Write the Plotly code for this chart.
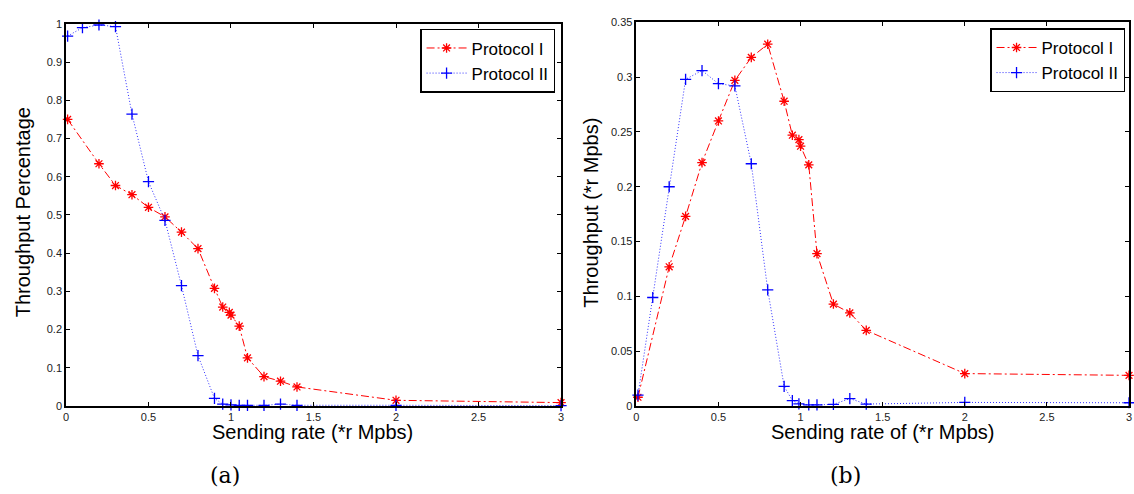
import plotly.graph_objects as go

# ---- data: panel (a) throughput percentage ----
a_x1 = [0.01, 0.2, 0.3, 0.4, 0.5, 0.6, 0.7, 0.8, 0.9, 0.95, 0.99, 1.0, 1.05, 1.1, 1.2, 1.3, 1.4, 2.0, 3.0]
a_y1 = [0.75, 0.634, 0.577, 0.553, 0.52, 0.495, 0.455, 0.412, 0.308, 0.259, 0.245, 0.238, 0.209, 0.126, 0.077, 0.065, 0.05, 0.015, 0.009]
a_x2 = [0.01, 0.1, 0.2, 0.3, 0.4, 0.5, 0.6, 0.7, 0.8, 0.9, 0.95, 1.0, 1.05, 1.1, 1.2, 1.3, 1.4, 2.0, 3.0]
a_y2 = [0.968, 0.99, 0.997, 0.993, 0.764, 0.587, 0.486, 0.315, 0.132, 0.02, 0.005, 0.003, 0.002, 0.002, 0.002, 0.005, 0.002, 0.002, 0.001]

# ---- data: panel (b) throughput ----
b_x1 = [0.01, 0.2, 0.3, 0.4, 0.5, 0.6, 0.7, 0.8, 0.9, 0.95, 0.99, 1.0, 1.05, 1.1, 1.2, 1.3, 1.4, 2.0, 3.0]
b_y1 = [0.008, 0.127, 0.173, 0.222, 0.26, 0.297, 0.318, 0.33, 0.278, 0.247, 0.243, 0.237, 0.22, 0.139, 0.093, 0.085, 0.069, 0.0296, 0.028]
b_x2 = [0.01, 0.1, 0.2, 0.3, 0.4, 0.5, 0.6, 0.7, 0.8, 0.9, 0.95, 0.99, 1.05, 1.1, 1.2, 1.3, 1.4, 2.0, 3.0]
b_y2 = [0.01, 0.099, 0.2, 0.298, 0.306, 0.294, 0.292, 0.221, 0.106, 0.018, 0.005, 0.002, 0.001, 0.001, 0.0015, 0.0068, 0.0018, 0.0033, 0.003]

series_names = ["Protocol I", "Protocol II"]
x_ticks = [0, 0.5, 1, 1.5, 2, 2.5, 3]
x_ticktext = ["0", "0.5", "1", "1.5", "2", "2.5", "3"]
a_yticks = [0, 0.1, 0.2, 0.3, 0.4, 0.5, 0.6, 0.7, 0.8, 0.9, 1.0]
a_yticktext = ["0", "0.1", "0.2", "0.3", "0.4", "0.5", "0.6", "0.7", "0.8", "0.9", "1"]
b_yticks = [0, 0.05, 0.1, 0.15, 0.2, 0.25, 0.3, 0.35]
b_yticktext = ["0", "0.05", "0.1", "0.15", "0.2", "0.25", "0.3", "0.35"]

W, H = 1134, 494
FONT = "Liberation Sans, Arial, sans-serif"

fig = go.Figure()

def px_x(p):
    return p / W

def px_y(p):
    return 1 - p / H

style1 = dict(mode="lines+markers", line=dict(color="#ff0000", width=1, dash="8px,3px,2px,3px"),
              marker=dict(symbol="asterisk-open", size=8, color="#ff0000", line=dict(color="#ff0000", width=1.3)),
              cliponaxis=False)
style2 = dict(mode="lines+markers", line=dict(color="#3030ff", width=1, dash="1px,2px"),
              marker=dict(symbol="cross-thin-open", size=8, color="#0000ff", line=dict(color="#0000ff", width=1.3)),
              cliponaxis=False)

fig.add_trace(go.Scatter(x=a_x1, y=a_y1, name=series_names[0], xaxis="x", yaxis="y", legend="legend", **style1))
fig.add_trace(go.Scatter(x=a_x2, y=a_y2, name=series_names[1], xaxis="x", yaxis="y", legend="legend", **style2))
fig.add_trace(go.Scatter(x=b_x1, y=b_y1, name=series_names[0], xaxis="x2", yaxis="y2", legend="legend2", **style1))
fig.add_trace(go.Scatter(x=b_x2, y=b_y2, name=series_names[1], xaxis="x2", yaxis="y2", legend="legend2", **style2))

axis_common = dict(showline=True, linecolor="black", linewidth=1.5, mirror="ticks", ticks="inside",
                   ticklen=4, tickcolor="black", tickwidth=1, showgrid=False, zeroline=False,
                   tickfont=dict(family=FONT, size=11, color="#222"))

legend_common = dict(bordercolor="black", borderwidth=1.5, bgcolor="white",
                     font=dict(family=FONT, size=17, color="black"),
                     xanchor="right", yanchor="top", tracegroupgap=0, itemwidth=40)

fig.update_layout(
    width=W, height=H, autosize=False,
    margin=dict(l=0, r=0, t=0, b=0),
    plot_bgcolor="white", paper_bgcolor="white",
    xaxis=dict(domain=[px_x(63.3), px_x(561)], range=[0, 3], anchor="y",
               tickvals=x_ticks, ticktext=x_ticktext, **axis_common),
    yaxis=dict(domain=[px_y(410), px_y(18.3)], range=[0, 1], anchor="x",
               tickvals=a_yticks, ticktext=a_yticktext, **axis_common),
    xaxis2=dict(domain=[px_x(636.7), px_x(1132)], range=[0, 3], anchor="y2",
                tickvals=x_ticks, ticktext=x_ticktext, **axis_common),
    yaxis2=dict(domain=[px_y(410), px_y(16.7)], range=[0, 0.35], anchor="x2",
                tickvals=b_yticks, ticktext=b_yticktext, **axis_common),
    legend=dict(x=px_x(555), y=px_y(23.5), **legend_common),
    legend2=dict(x=px_x(1128), y=px_y(23), **legend_common),
    showlegend=True,
)

ann_font = dict(family=FONT, size=20, color="black")
cap_font = dict(family="DejaVu Serif, Liberation Serif, serif", size=22, color="black")
fig.add_annotation(text="Sending rate (*r Mpbs)", x=px_x(311), y=px_y(437), xref="paper", yref="paper",
                   showarrow=False, font=ann_font, xanchor="center", yanchor="middle")
fig.add_annotation(text="Sending rate of (*r Mpbs)", x=px_x(884), y=px_y(437), xref="paper", yref="paper",
                   showarrow=False, font=ann_font, xanchor="center", yanchor="middle")
fig.add_annotation(text="Throughput Percentage", x=px_x(19.5), y=px_y(211), xref="paper", yref="paper",
                   showarrow=False, font=ann_font, textangle=-90, xanchor="center", yanchor="middle")
fig.add_annotation(text="Throughput (*r Mpbs)", x=px_x(591), y=px_y(212), xref="paper", yref="paper",
                   showarrow=False, font=ann_font, textangle=-90, xanchor="center", yanchor="middle")
fig.add_annotation(text="(a)", x=px_x(223), y=px_y(481), xref="paper", yref="paper",
                   showarrow=False, font=cap_font, xanchor="center", yanchor="middle")
fig.add_annotation(text="(b)", x=px_x(847), y=px_y(481), xref="paper", yref="paper",
                   showarrow=False, font=cap_font, xanchor="center", yanchor="middle")

fig.write_html("out.html", config={"displayModeBar": False},
               post_script="document.body.style.margin='0';document.body.style.padding='0';"
                           "document.body.style.overflow='hidden';")
